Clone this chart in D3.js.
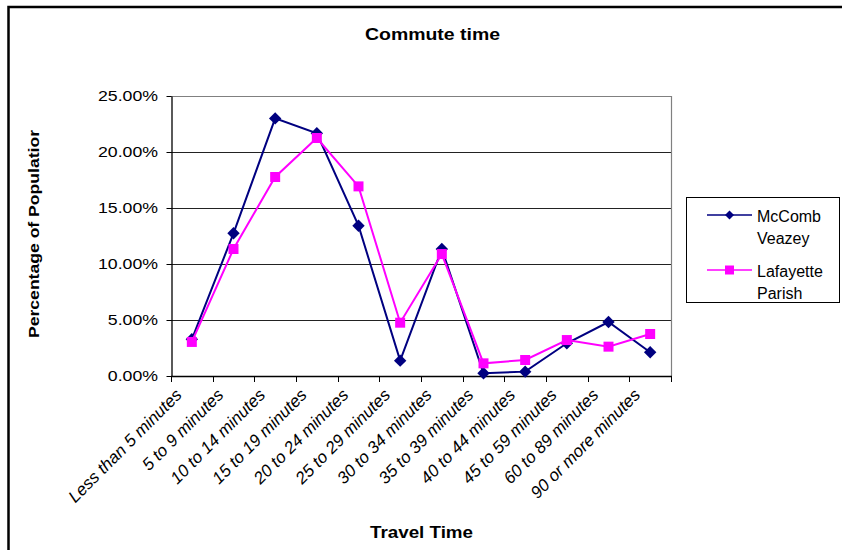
<!DOCTYPE html>
<html>
<head>
<meta charset="utf-8">
<script src="https://cdn.jsdelivr.net/npm/d3@7"></script>
<style>
  body { margin: 0; background: #fff; }
  svg { display: block; }
  text { font-family: "Liberation Sans", Arial, sans-serif; fill: #000; }
</style>
</head>
<body>
<svg id="chart" width="842" height="550"></svg>
<script>
// Commute time categories (x axis)
const categories = [
  "Less than 5 minutes", "5 to 9 minutes", "10 to 14 minutes", "15 to 19 minutes",
  "20 to 24 minutes", "25 to 29 minutes", "30 to 34 minutes", "35 to 39 minutes",
  "40 to 44 minutes", "45 to 59 minutes", "60 to 89 minutes", "90 or more minutes"
];
// Share of population (percent) per category
const mccombVeazey    = [3.28, 12.74, 23.00, 21.67, 13.42, 1.37, 11.34, 0.24, 0.39, 2.92, 4.82, 2.12];
const lafayetteParish = [3.04, 11.34, 17.77, 21.25, 16.93, 4.76, 10.89, 1.13, 1.43, 3.21, 2.62, 3.75];
const seriesNames = [["McComb", "Veazey"], ["Lafayette", "Parish"]];
const yTicks = [0, 5, 10, 15, 20, 25];

const svg = d3.select("#chart");
const plot = { left: 171, right: 671, top: 96, bottom: 376 };

// Outer chart frame
svg.append("rect")
  .attr("x", 8.5).attr("y", 7).attr("width", 900).attr("height", 600)
  .attr("fill", "#fff").attr("stroke", "#000").attr("stroke-width", 2.5);

const x = d3.scaleBand().domain(categories).range([plot.left, plot.right]).paddingInner(0).paddingOuter(0);
const y = d3.scaleLinear().domain([0, 25]).range([plot.bottom, plot.top]);
const cx = c => x(c) + x.bandwidth() / 2;

// Horizontal gridlines
svg.append("g").selectAll("line")
  .data(yTicks.filter(t => t > 0 && t < 25))
  .join("line")
  .attr("x1", plot.left).attr("x2", plot.right)
  .attr("y1", d => Math.round(y(d)) + 0.5).attr("y2", d => Math.round(y(d)) + 0.5)
  .attr("stroke", "#222").attr("stroke-width", 1);

// Plot area border (top and right)
svg.append("path")
  .attr("d", `M${plot.left},${plot.top + 0.5}H${plot.right + 0.5}V${plot.bottom}`)
  .attr("fill", "none").attr("stroke", "#808080").attr("stroke-width", 1.2);

// Y axis
const yAxis = svg.append("g")
  .attr("transform", `translate(${plot.left + 0.5},0)`)
  .call(d3.axisLeft(y).tickValues(yTicks).tickSize(5).tickSizeOuter(0).tickFormat(d => d.toFixed(2) + "%"));
yAxis.select(".domain").attr("stroke", "#000").attr("stroke-width", 1.3);
yAxis.selectAll(".tick line").attr("stroke", "#000");
yAxis.selectAll(".tick text").remove();
svg.append("g").selectAll("text")
  .data(yTicks)
  .join("text")
  .attr("text-anchor", "end")
  .attr("font-size", 15)
  .attr("transform", d => `translate(158,${y(d) + 5}) scale(1.18,1)`)
  .text(d => d.toFixed(2) + "%");

// X axis with ticks on category boundaries
const xAxisG = svg.append("g");
xAxisG.append("line")
  .attr("x1", plot.left).attr("x2", plot.right + 1)
  .attr("y1", plot.bottom + 0.5).attr("y2", plot.bottom + 0.5)
  .attr("stroke", "#000").attr("stroke-width", 1.3);
const boundaries = categories.map(c => x(c)).concat([x(categories[categories.length - 1]) + x.bandwidth()]);
xAxisG.selectAll("line.tick")
  .data(boundaries)
  .join("line")
  .attr("class", "tick")
  .attr("x1", d => Math.round(d) + 0.5).attr("x2", d => Math.round(d) + 0.5)
  .attr("y1", plot.bottom).attr("y2", plot.bottom + 6)
  .attr("stroke", "#000");
xAxisG.selectAll("text")
  .data(categories)
  .join("text")
  .attr("text-anchor", "end")
  .attr("font-size", 17)
  .attr("font-style", "italic")
  .attr("transform", d => `translate(${cx(d) - 9},${plot.bottom + 20}) rotate(-45)`)
  .text(d => d);

// Titles
svg.append("text")
  .attr("x", 432.5).attr("y", 40)
  .attr("text-anchor", "middle").attr("font-weight", "bold").attr("font-size", 16)
  .attr("textLength", 135).attr("lengthAdjust", "spacingAndGlyphs")
  .text("Commute time");
svg.append("text")
  .attr("x", 421.5).attr("y", 537.5)
  .attr("text-anchor", "middle").attr("font-weight", "bold").attr("font-size", 16)
  .attr("textLength", 103).attr("lengthAdjust", "spacingAndGlyphs")
  .text("Travel Time");
svg.append("text")
  .attr("transform", "translate(39,234) rotate(-90)")
  .attr("text-anchor", "middle").attr("font-weight", "bold").attr("font-size", 15)
  .attr("textLength", 208).attr("lengthAdjust", "spacingAndGlyphs")
  .text("Percentage of Populatior");

// Marker shapes
const diamond = r => `M0,${-r}L${r},0L0,${r}L${-r},0Z`;
const square = s => `M${-s / 2},${-s / 2}h${s}v${s}h${-s}Z`;

const series = [
  { values: mccombVeazey, color: "#000080", marker: diamond(6.2), legendMarker: diamond(4.5) },
  { values: lafayetteParish, color: "#FF00FF", marker: square(10), legendMarker: square(9) }
];

const line = d3.line().x((d, i) => cx(categories[i])).y(d => y(d));

series.forEach(s => {
  svg.append("path")
    .datum(s.values)
    .attr("d", line)
    .attr("fill", "none").attr("stroke", s.color).attr("stroke-width", 2);
  svg.append("g").selectAll("path")
    .data(s.values)
    .join("path")
    .attr("d", s.marker)
    .attr("transform", (d, i) => `translate(${cx(categories[i])},${y(d)})`)
    .attr("fill", s.color);
});

// Legend
const legend = svg.append("g");
legend.append("rect")
  .attr("x", 686.5).attr("y", 197.5).attr("width", 153).attr("height", 105)
  .attr("fill", "#fff").attr("stroke", "#000").attr("stroke-width", 1);
series.forEach((s, k) => {
  const ly = 215 + k * 55;
  legend.append("line")
    .attr("x1", 707).attr("x2", 752).attr("y1", ly).attr("y2", ly)
    .attr("stroke", s.color).attr("stroke-width", 1.5);
  legend.append("path")
    .attr("d", s.legendMarker)
    .attr("transform", `translate(729.5,${ly})`)
    .attr("fill", s.color);
  seriesNames[k].forEach((w, j) => {
    legend.append("text")
      .attr("x", 757).attr("y", ly + 7 + j * 22)
      .attr("font-size", 16)
      .text(w);
  });
});
</script>
</body>
</html>
